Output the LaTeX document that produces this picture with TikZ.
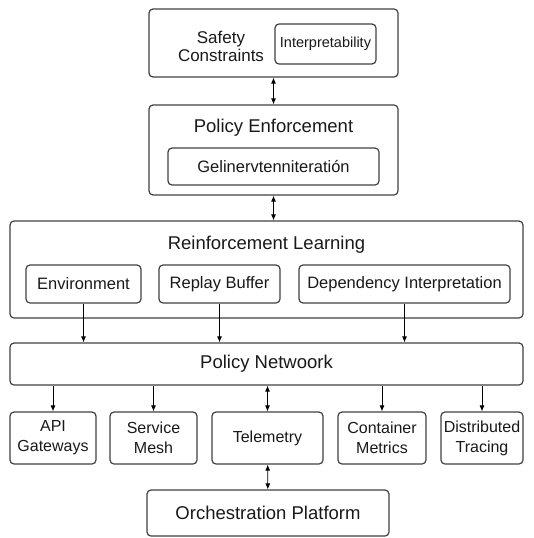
\documentclass[tikz,border=0pt]{standalone}
\usepackage{fontspec}
\setmainfont{Liberation Sans}
\usetikzlibrary{arrows.meta}

\begin{document}
\begin{tikzpicture}[x=1pt, y=-1pt,
  box/.style={draw=black!75, line width=1.2pt, rounded corners=4pt, inner sep=0pt, text=black!90},
  inbox/.style={box, font=\fontsize{16.5}{19}\selectfont, minimum height=38pt},
  lowbox/.style={box, font=\fontsize{16}{20}\selectfont, align=center, minimum height=52pt},
  lbl/.style={font=\fontsize{18.5}{22}\selectfont, text=black!90, inner sep=0pt},
  link/.style={-{Latex[length=6pt,width=5pt]}, line width=0.8pt},
  both/.style={{Latex[length=6pt,width=5pt]}-{Latex[length=6pt,width=5pt]}, line width=0.8pt}]
  \useasboundingbox (0,0) rectangle (534,538);
  % safety layer
  \node[box, minimum width=249pt, minimum height=68pt] (safety) at (273.5,43) {};
  \node[box, font=\fontsize{14.5}{17}\selectfont, minimum width=101pt, minimum height=40pt] (interp) at (325.5,44) {Interpretability};
  \node[lbl, align=center, font=\fontsize{17}{18}\selectfont] (safetxt) at (221,46) {Safety\\Constraints};
  % enforcement
  \node[box, minimum width=249pt, minimum height=90pt] (enforce) at (273.5,150) {};
  \node[lbl] (enftxt) at (273.5,128) {Policy Enforcement};
  \node[inbox, minimum width=211pt, minimum height=37pt] (gelin) at (273.5,166.5) {Gelinervtenniteratión};
  % reinforcement learning
  \node[box, minimum width=513pt, minimum height=97pt] (rl) at (266.5,269.5) {};
  \node[lbl] (rltxt) at (266.5,245) {Reinforcement Learning};
  \node[inbox, minimum width=115pt] (env) at (83.5,284) {Environment};
  \node[inbox, minimum width=121pt] (replay) at (219.5,284) {Replay Buffer};
  \node[inbox, minimum width=211pt] (dep) at (404.5,284) {Dependency Interpretation};
  % policy network
  \node[box, lbl, draw=black!75, minimum width=513pt, minimum height=42pt] (pnet) at (266.5,364) {Policy Netwoork};
  % sources
  \node[lowbox, minimum width=86pt] (api) at (53,438) {API\\Gateways};
  \node[lowbox, minimum width=87pt] (mesh) at (153.5,438) {Service\\Mesh};
  \node[lowbox, minimum width=111pt] (tele) at (267.5,438) {Telemetry};
  \node[lowbox, minimum width=88pt] (cont) at (382,438) {Container\\Metrics};
  \node[lowbox, minimum width=82pt] (dist) at (482,438) {Distributed\\Tracing};
  % platform
  \node[box, lbl, draw=black!75, minimum width=242pt, minimum height=46pt] (orch) at (268,513) {Orchestration Platform};

  % arrows
  \draw[both] (safety) -- (enforce);
  \draw[both] (enforce) -- (enforce |- rl.north);
  \foreach \n in {env,replay,dep}
    \draw[link] (\n) -- (\n |- pnet.north);
  \foreach \n in {api,mesh,cont,dist}
    \draw[link] (\n |- pnet.south) -- (\n);
  \draw[both] (tele |- pnet.south) -- (tele);
  \draw[both] (tele) -- (orch);
\end{tikzpicture}
\end{document}
